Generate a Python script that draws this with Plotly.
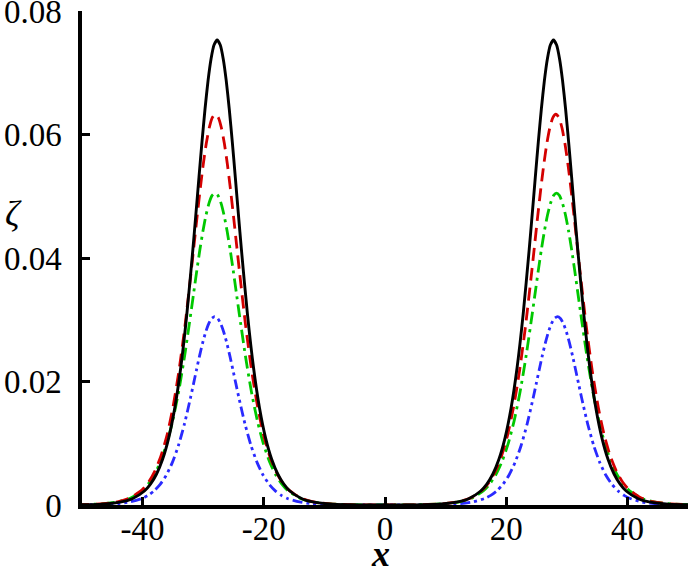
import plotly.graph_objects as go

# ---- data ----
x_black = [-50.7, -46.7, -43.7, -41.7, -39.7, -38.7, -37.7, -36.7, -35.7, -34.7, -33.7, -32.7, -31.7, -31.2, -30.7, -30.2, -29.7, -29.2, -28.7, -28.2, -27.7,
           -27.2, -26.7, -26.2, -25.7, -25.2, -24.7, -24.2, -23.7, -22.7, -21.7, -20.7, -19.7, -18.7, -17.7, -16.7, -15.7, -13.7, -11.7, -8.7, -4.7,
           0.0,
           4.8, 8.8, 11.8, 13.8, 15.8, 16.8, 17.8, 18.8, 19.8, 20.8, 21.8, 22.8, 23.8, 24.3, 24.8, 25.3, 25.8, 26.3, 26.8, 27.3, 27.8,
           28.3, 28.8, 29.3, 29.8, 30.3, 30.8, 31.3, 31.8, 32.8, 33.8, 34.8, 35.8, 36.8, 37.8, 38.8, 39.8, 41.8, 43.8, 46.8, 50.8]
y_black = [0.0000264, 0.000134, 0.000455, 0.001017, 0.00227, 0.00338, 0.00502, 0.0074, 0.01083, 0.01567, 0.02227, 0.0309, 0.04143, 0.04718, 0.05306, 0.05881, 0.06413, 0.06873, 0.07228, 0.07453, 0.0753,
           0.07453, 0.07228, 0.06873, 0.06413, 0.05881, 0.05306, 0.04718, 0.04143, 0.0309, 0.02227, 0.01567, 0.01083, 0.0074, 0.00502, 0.00338, 0.00227, 0.001017, 0.000455, 0.000134, 0.0000264,
           0.0,
           0.0000264, 0.000134, 0.000455, 0.001017, 0.00227, 0.00338, 0.00502, 0.0074, 0.01083, 0.01567, 0.02227, 0.0309, 0.04143, 0.04718, 0.05306, 0.05881, 0.06413, 0.06873, 0.07228, 0.07453, 0.0753,
           0.07453, 0.07228, 0.06873, 0.06413, 0.05881, 0.05306, 0.04718, 0.04143, 0.0309, 0.02227, 0.01567, 0.01083, 0.0074, 0.00502, 0.00338, 0.00227, 0.001017, 0.000455, 0.000134, 0.0000264]

x_red = [-51.0, -47.0, -44.0, -42.0, -40.0, -39.0, -38.0, -37.0, -36.0, -35.0, -34.0, -33.0, -32.0, -31.5, -31.0, -30.5, -30.0, -29.5, -29.0, -28.5, -28.0,
         -27.5, -27.0, -26.5, -26.0, -25.5, -25.0, -24.5, -24.0, -23.0, -22.0, -21.0, -20.0, -19.0, -18.0, -17.0, -16.0, -14.0, -12.0, -9.0, -5.0,
         0.0,
         5.2, 9.2, 12.2, 14.2, 16.2, 17.2, 18.2, 19.2, 20.2, 21.2, 22.2, 23.2, 24.2, 24.7, 25.2, 25.7, 26.2, 26.7, 27.2, 27.7, 28.2,
         28.7, 29.2, 29.7, 30.2, 30.7, 31.2, 31.7, 32.2, 33.2, 34.2, 35.2, 36.2, 37.2, 38.2, 39.2, 40.2, 42.2, 44.2, 47.2, 51.2]
y_red = [0.0000343, 0.00017, 0.00054, 0.00117, 0.00255, 0.00372, 0.00545, 0.00785, 0.0112, 0.01578, 0.02172, 0.02906, 0.03767, 0.04222, 0.04677, 0.05113, 0.05511, 0.0585, 0.06109, 0.06274, 0.0633,
         0.06274, 0.06109, 0.0585, 0.05511, 0.05113, 0.04677, 0.04222, 0.03767, 0.02906, 0.02172, 0.01578, 0.0112, 0.00785, 0.00545, 0.00372, 0.00255, 0.00117, 0.00054, 0.00017, 0.0000343,
         0.0,
         0.0000343, 0.00017, 0.00054, 0.00117, 0.00255, 0.00372, 0.00545, 0.00785, 0.0112, 0.01578, 0.02172, 0.02906, 0.03767, 0.04222, 0.04677, 0.05113, 0.05511, 0.0585, 0.06109, 0.06274, 0.0633,
         0.06274, 0.06109, 0.0585, 0.05511, 0.05113, 0.04677, 0.04222, 0.03767, 0.02906, 0.02172, 0.01578, 0.0112, 0.00785, 0.00545, 0.00372, 0.00255, 0.00117, 0.00054, 0.00017, 0.0000343]

x_green = [-51.05, -47.05, -44.05, -42.05, -40.05, -39.05, -38.05, -37.05, -36.05, -35.05, -34.05, -33.05, -32.05, -31.55, -31.05, -30.55, -30.05, -29.55, -29.05, -28.55, -28.05,
           -27.55, -27.05, -26.55, -26.05, -25.55, -25.05, -24.55, -24.05, -23.05, -22.05, -21.05, -20.05, -19.05, -18.05, -17.05, -16.05, -14.05, -12.05, -9.05, -5.05,
           0.0,
           5.3, 9.3, 12.3, 14.3, 16.3, 17.3, 18.3, 19.3, 20.3, 21.3, 22.3, 23.3, 24.3, 24.8, 25.3, 25.8, 26.3, 26.8, 27.3, 27.8, 28.3,
           28.8, 29.3, 29.8, 30.3, 30.8, 31.3, 31.8, 32.3, 33.3, 34.3, 35.3, 36.3, 37.3, 38.3, 39.3, 40.3, 42.3, 44.3, 47.3, 51.3]
y_green = [0.0000367, 0.00017, 0.00052, 0.00111, 0.00235, 0.00342, 0.00492, 0.00702, 0.00985, 0.01358, 0.01837, 0.02425, 0.03098, 0.0345, 0.038, 0.04133, 0.04434, 0.04689, 0.04884, 0.05009, 0.0505,
           0.05009, 0.04884, 0.04689, 0.04434, 0.04133, 0.038, 0.0345, 0.03098, 0.02425, 0.01837, 0.01358, 0.00985, 0.00702, 0.00492, 0.00342, 0.00235, 0.00111, 0.00052, 0.00017, 0.0000367,
           0.0,
           0.0000367, 0.00017, 0.00052, 0.00111, 0.00235, 0.00342, 0.00492, 0.00702, 0.00985, 0.01358, 0.01837, 0.02425, 0.03098, 0.0345, 0.038, 0.04133, 0.04434, 0.04689, 0.04884, 0.05009, 0.0505,
           0.05009, 0.04884, 0.04689, 0.04434, 0.04133, 0.038, 0.0345, 0.03098, 0.02425, 0.01837, 0.01358, 0.00985, 0.00702, 0.00492, 0.00342, 0.00235, 0.00111, 0.00052, 0.00017, 0.0000367]

x_blue = [-51.1, -47.1, -44.1, -42.1, -40.1, -39.1, -38.1, -37.1, -36.1, -35.1, -34.1, -33.1, -32.1, -31.6, -31.1, -30.6, -30.1, -29.6, -29.1, -28.6, -28.1,
          -27.6, -27.1, -26.6, -26.1, -25.6, -25.1, -24.6, -24.1, -23.1, -22.1, -21.1, -20.1, -19.1, -18.1, -17.1, -16.1, -14.1, -12.1, -9.1, -5.1,
          0.0,
          5.45, 9.45, 12.45, 14.45, 16.45, 17.45, 18.45, 19.45, 20.45, 21.45, 22.45, 23.45, 24.45, 24.95, 25.45, 25.95, 26.45, 26.95, 27.45, 27.95, 28.45,
          28.95, 29.45, 29.95, 30.45, 30.95, 31.45, 31.95, 32.45, 33.45, 34.45, 35.45, 36.45, 37.45, 38.45, 39.45, 40.45, 42.45, 44.45, 47.45, 51.45]
y_blue = [0.0000141, 0.0000684, 0.000223, 0.000487, 0.001059, 0.001557, 0.00229, 0.00334, 0.00481, 0.00686, 0.0096, 0.01311, 0.01733, 0.01961, 0.02191, 0.02415, 0.02621, 0.02798, 0.02934, 0.03021, 0.0305,
          0.03021, 0.02934, 0.02798, 0.02621, 0.02415, 0.02191, 0.01961, 0.01733, 0.01311, 0.0096, 0.00686, 0.00481, 0.00334, 0.00229, 0.001557, 0.001059, 0.000487, 0.000223, 0.0000684, 0.0000141,
          0.0,
          0.0000141, 0.0000684, 0.000223, 0.000487, 0.001059, 0.001557, 0.00229, 0.00334, 0.00481, 0.00686, 0.0096, 0.01311, 0.01733, 0.01961, 0.02191, 0.02415, 0.02621, 0.02798, 0.02934, 0.03021, 0.0305,
          0.03021, 0.02934, 0.02798, 0.02621, 0.02415, 0.02191, 0.01961, 0.01733, 0.01311, 0.0096, 0.00686, 0.00481, 0.00334, 0.00229, 0.001557, 0.001059, 0.000487, 0.000223, 0.0000684, 0.0000141]

x_ticks = [-40, -20, 0, 20, 40]
x_ticktext = ["-40", "-20", "0", "20", "40"]
y_ticks = [0, 0.02, 0.04, 0.06, 0.08]
y_ticktext = ["0", "0.02", "0.04", "0.06", "0.08"]

FONT = "Liberation Serif"

fig = go.Figure()
# draw from back to front: blue, green, red, black
fig.add_trace(go.Scatter(x=x_blue, y=y_blue, mode="lines",
                         line=dict(color="#2a2aff", width=2.8, dash="10px,4px,3px,4px,3px,4px", shape="spline", smoothing=0.6)))
fig.add_trace(go.Scatter(x=x_green, y=y_green, mode="lines",
                         line=dict(color="#00c800", width=2.8, dash="13px,5px,3px,5px", shape="spline", smoothing=0.6)))
fig.add_trace(go.Scatter(x=x_red, y=y_red, mode="lines",
                         line=dict(color="#d40000", width=2.8, dash="13px,7px", shape="spline", smoothing=0.6)))
fig.add_trace(go.Scatter(x=x_black, y=y_black, mode="lines",
                         line=dict(color="#000000", width=2.9, shape="spline", smoothing=0.6)))

fig.update_layout(
    width=691, height=572,
    margin=dict(l=82, r=3, t=11, b=67),
    paper_bgcolor="white", plot_bgcolor="white",
    showlegend=False,
    font=dict(family=FONT, size=33, color="black"),
)
fig.update_xaxes(range=[-50, 50], showgrid=False, zeroline=False, automargin=False,
                 showline=True, linecolor="black", linewidth=3.5,
                 ticks="inside", ticklen=8, tickwidth=2.5, tickcolor="black",
                 tickvals=x_ticks, ticktext=x_ticktext, ticklabelstandoff=-8,
                 ticklabeloverflow="allow",
                 tickfont=dict(family=FONT, size=33, color="black"))
fig.update_yaxes(range=[0, 0.08], showgrid=False, zeroline=False, automargin=False,
                 showline=True, linecolor="black", linewidth=3.5,
                 ticks="inside", ticklen=8, tickwidth=2.5, tickcolor="black",
                 tickvals=y_ticks, ticktext=y_ticktext, ticklabelstandoff=10,
                 ticklabeloverflow="allow",
                 tickfont=dict(family=FONT, size=33, color="black"))

fig.add_annotation(text="<i>ζ</i>", xref="paper", yref="paper", x=-0.113, y=0.59,
                   showarrow=False, font=dict(family=FONT, size=36, color="black"),
                   xanchor="center", yanchor="middle")
fig.add_annotation(text="<b><i>x</i></b>", xref="paper", yref="paper", x=0.492, y=-0.1,
                   showarrow=False, font=dict(family=FONT, size=36, color="black"),
                   xanchor="center", yanchor="middle")

fig.write_html("out.html", config={"displayModeBar": False},
               post_script="document.body.style.margin='0';document.body.style.overflow='hidden';")
